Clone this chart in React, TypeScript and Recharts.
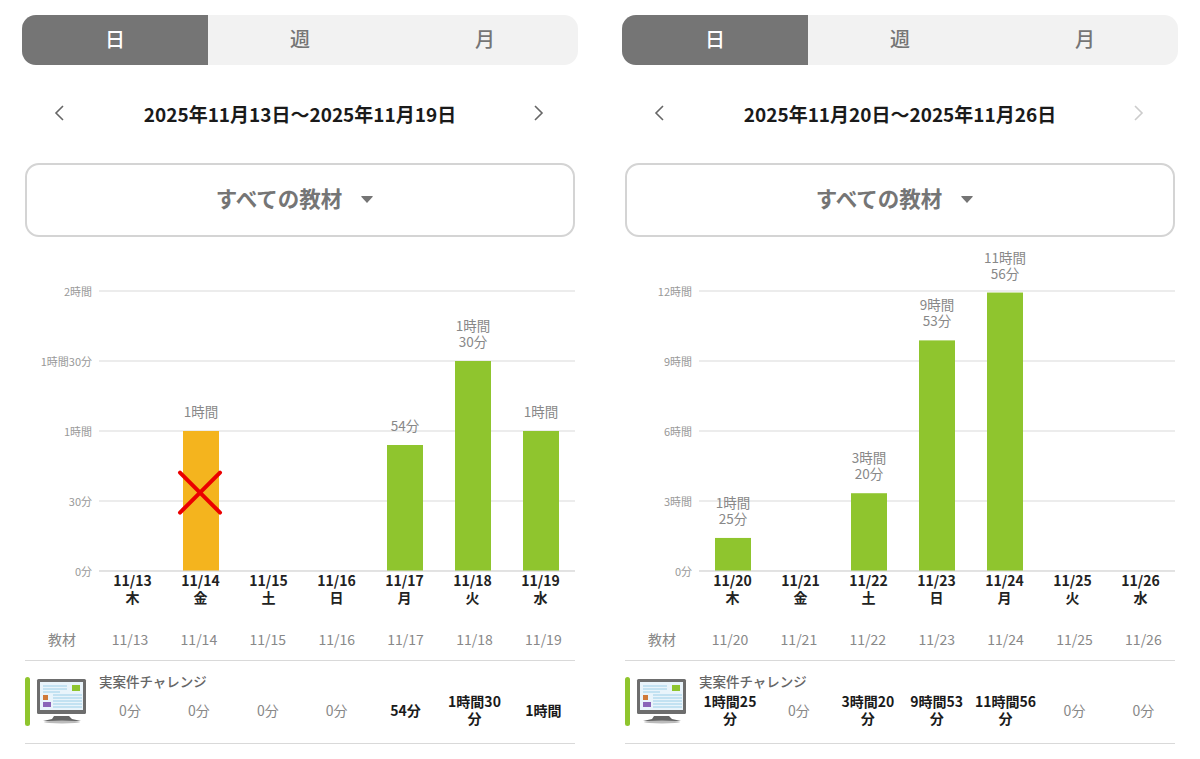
import React from "react";
import { BarChart, Bar, XAxis, YAxis, CartesianGrid, LabelList } from "recharts";

const FONT = '"Noto Sans CJK JP", "Noto Sans", sans-serif';
const GREEN = "#8fc52e";
const ORANGE = "#f4b41e";

const periodTabs = ["日", "週", "月"];
const courseName = "実案件チャレンジ";

const firstTitle = "2025年11月13日～2025年11月19日";
const firstDates = ["11/13", "11/14", "11/15", "11/16", "11/17", "11/18", "11/19"];
const firstDays = ["木", "金", "土", "日", "月", "火", "水"];
const firstMinutes = [0, 60, 0, 0, 54, 90, 60];
// the crossed-out day still counts as 0 in the table row
const firstRowMinutes = [0, 0, 0, 0, 54, 90, 60];
const firstTicks = [0, 30, 60, 90, 120];
const firstCrossed = ["11/14"];

const secondTitle = "2025年11月20日～2025年11月26日";
const secondDates = ["11/20", "11/21", "11/22", "11/23", "11/24", "11/25", "11/26"];
const secondDays = ["木", "金", "土", "日", "月", "火", "水"];
const secondMinutes = [85, 0, 200, 593, 716, 0, 0];
const secondRowMinutes = [85, 0, 200, 593, 716, 0, 0];
const secondTicks = [0, 180, 360, 540, 720];
const secondCrossed: string[] = [];

const formatMinutes = (value: number) => {
  const h = Math.floor(value / 60);
  const m = value % 60;
  if (h === 0) return `${m}分`;
  return m === 0 ? `${h}時間` : `${h}時間${m}分`;
};

const XTick = ({ x, y, payload, days }: any) => (
  <text x={x} textAnchor="middle" fontFamily={FONT} fontSize={14} fontWeight={700} fill="#222">
    <tspan x={x - 0.5} y={y + 7}>{payload.value}</tspan>
    <tspan x={x - 0.5} y={y + 24}>{days[payload.index]}</tspan>
  </text>
);

const YTick = ({ x, y, payload }: any) => (
  <text x={x} y={y + 5} textAnchor="end" fontFamily={FONT} fontSize={11} fill="#999">
    {formatMinutes(payload.value)}
  </text>
);

const BarLabel = ({ x, y, width, value }: any) => {
  if (!value) return null;
  const h = Math.floor(value / 60);
  const m = value % 60;
  const lines = h > 0 && m > 0 ? [`${h}時間`, `${m}分`] : [formatMinutes(value)];
  const cx = x + width / 2;
  return (
    <text textAnchor="middle" fontFamily={FONT} fontSize={13.5} fill="#888">
      {lines.map((line, i) => (
        <tspan key={line} x={cx} y={y - 14 - (lines.length - 1 - i) * 16}>
          {line}
        </tspan>
      ))}
    </text>
  );
};

const BarShape = ({ x, y, width, height, payload }: any) => {
  if (!height) return null;
  const cx = x + width / 2 - 1;
  const cy = y + height * 0.44;
  return (
    <g>
      <rect x={x} y={y} width={width} height={height} fill={payload.crossed ? ORANGE : GREEN} />
      {payload.crossed && (
        <g stroke="#eb0000" strokeWidth={4} strokeLinecap="round">
          <line x1={cx - 20} y1={cy - 20} x2={cx + 20} y2={cy + 20} />
          <line x1={cx + 20} y1={cy - 20} x2={cx - 20} y2={cy + 20} />
        </g>
      )}
    </g>
  );
};

const Chevron = ({ x, dir, color }: { x: number; dir: number; color: string }) => (
  <svg style={{ position: "absolute", left: x - 6, top: 104 }} width={12} height={18}>
    <polyline
      points={dir < 0 ? "10,2 3,9 10,16" : "3,2 10,9 3,16"}
      fill="none"
      stroke={color}
      strokeWidth={1.6}
    />
  </svg>
);

const MonitorIcon = () => (
  <svg style={{ position: "absolute", left: 36, top: 678 }} width={52} height={46}>
    <path d="M18 38 L16 41 L7 43 L45 43 L36 41 L33 38 Z" fill="#666" />
    <ellipse cx={26} cy={44} rx={18} ry={1.4} fill="#bbb" />
    <rect x={1} y={1} width={49} height={35} rx={1.5} fill="#6d6d6d" />
    <rect x={4} y={4} width={43} height={28} fill="#e9f4fb" />
    <rect x={36} y={7} width={8} height={6} fill="#8fc52e" />
    <rect x={7} y={17} width={5} height={5} fill="#d07a3a" />
    <rect x={7} y={24} width={8} height={5} fill="#8a64b8" />
    <g stroke="#9ccfe8" strokeWidth={1}>
      <line x1={7} y1={8} x2={31} y2={8} />
      <line x1={7} y1={11} x2={31} y2={11} />
      <line x1={7} y1={14} x2={24} y2={14} />
      <line x1={17} y1={17} x2={46} y2={17} />
      <line x1={17} y1={20} x2={46} y2={20} />
      <line x1={17} y1={23} x2={46} y2={23} />
      <line x1={17} y1={26} x2={46} y2={26} />
      <line x1={17} y1={29} x2={46} y2={29} />
    </g>
  </svg>
);

const abs = (left: number, top: number, width: number, height: number): React.CSSProperties => ({
  position: "absolute",
  left,
  top,
  width,
  height,
});

type PanelProps = {
  left: number;
  title: string;
  dates: string[];
  days: string[];
  minutes: number[];
  rowMinutes: number[];
  ticks: number[];
  crossed: string[];
  nextColor: string;
};

const Panel = ({ left, title, dates, days, minutes, rowMinutes, ticks, crossed, nextColor }: PanelProps) => {
  const data = dates.map((date, i) => ({
    date,
    minutes: minutes[i],
    crossed: crossed.includes(date),
  }));
  return (
    <div style={{ ...abs(left, 0, 600, 759), fontFamily: FONT }}>
      <div style={{ ...abs(22, 15, 556, 50), background: "#f2f2f2", borderRadius: 14, overflow: "hidden" }}>
        <div style={{ ...abs(0, 0, 186, 50), background: "#757575" }} />
        {periodTabs.map((tab, i) => (
          <div
            key={tab}
            style={{
              ...abs(i * 185, 0, 186, 50),
              lineHeight: "48px",
              textAlign: "center",
              fontSize: 20,
              fontWeight: 500,
              color: i === 0 ? "#fff" : "#757575",
            }}
          >
            {tab}
          </div>
        ))}
      </div>

      <Chevron x={59} dir={-1} color="#666" />
      <Chevron x={538} dir={1} color={nextColor} />
      <div
        style={{
          ...abs(60, 100, 480, 28),
          lineHeight: "28px",
          textAlign: "center",
          fontSize: 19,
          fontWeight: 700,
          color: "#1a1a1a",
          whiteSpace: "nowrap",
        }}
      >
        {title}
      </div>

      <div
        style={{
          ...abs(25, 163, 550, 74),
          boxSizing: "border-box",
          border: "2px solid #d4d4d4",
          borderRadius: 14,
        }}
      />
      <div
        style={{
          ...abs(179, 182, 200, 32),
          lineHeight: "32px",
          textAlign: "center",
          fontSize: 21.5,
          fontWeight: 700,
          color: "#757575",
        }}
      >
        すべての教材
      </div>
      <svg style={{ position: "absolute", left: 360, top: 195 }} width={14} height={9}>
        <path d="M1.5 1 H12.5 Q13 1 12.5 2 L7 8 L1.5 2 Q1 1 1.5 1 Z" fill="#757575" />
      </svg>

      <div style={abs(0, 240, 600, 380)}>
        <BarChart
          width={600}
          height={380}
          data={data}
          margin={{ top: 51, right: 25, bottom: 0, left: 0 }}
        >
          <CartesianGrid vertical={false} stroke="#d9d9d9" strokeWidth={1} />
          <XAxis
            dataKey="date"
            height={49}
            interval={0}
            axisLine={{ stroke: "#d9d9d9" }}
            tickLine={false}
            tick={<XTick days={days} />}
          />
          <YAxis
            width={99}
            domain={[0, ticks[ticks.length - 1]]}
            ticks={ticks}
            interval={0}
            axisLine={false}
            tickLine={false}
            tickSize={0}
            tickMargin={7}
            tick={<YTick />}
          />
          <Bar dataKey="minutes" barSize={36} shape={<BarShape />} isAnimationActive={false}>
            <LabelList dataKey="minutes" content={<BarLabel />} />
          </Bar>
        </BarChart>
      </div>

      <div style={{ ...abs(42, 629, 40, 20), lineHeight: "20px", textAlign: "center", fontSize: 14, color: "#888" }}>
        教材
      </div>
      {dates.map((date, i) => (
        <div
          key={date}
          style={{
            ...abs(96 + i * 68.9, 629, 68, 20),
            lineHeight: "20px",
            textAlign: "center",
            fontSize: 14,
            color: "#888",
          }}
        >
          {date}
        </div>
      ))}
      <div style={{ ...abs(25, 660, 550, 1), background: "#d9d9d9" }} />

      <div style={{ ...abs(25, 677, 5, 49), background: GREEN, borderRadius: 3 }} />
      <MonitorIcon />
      <div style={{ ...abs(99, 671, 200, 20), lineHeight: "20px", fontSize: 13.5, fontWeight: 500, color: "#666" }}>
        {courseName}
      </div>
      {rowMinutes.map((value, i) => (
        <div
          key={dates[i]}
          style={{
            ...abs(96 + i * 68.9 + 3, 691, 62, 38),
            display: "flex",
            alignItems: "center",
            justifyContent: "center",
            textAlign: "center",
            lineHeight: "17px",
            fontSize: 14,
            fontWeight: value > 0 ? 700 : 400,
            color: value > 0 ? "#1a1a1a" : "#888",
          }}
        >
          <span>{formatMinutes(value)}</span>
        </div>
      ))}
      <div style={{ ...abs(25, 743, 550, 1), background: "#d9d9d9" }} />
    </div>
  );
};

export default function App() {
  return (
    <div style={{ ...abs(0, 0, 1200, 759), background: "#fff", overflow: "hidden" }}>
      <Panel
        left={0}
        title={firstTitle}
        dates={firstDates}
        days={firstDays}
        minutes={firstMinutes}
        rowMinutes={firstRowMinutes}
        ticks={firstTicks}
        crossed={firstCrossed}
        nextColor="#666"
      />
      <Panel
        left={600}
        title={secondTitle}
        dates={secondDates}
        days={secondDays}
        minutes={secondMinutes}
        rowMinutes={secondRowMinutes}
        ticks={secondTicks}
        crossed={secondCrossed}
        nextColor="#cccccc"
      />
    </div>
  );
}
